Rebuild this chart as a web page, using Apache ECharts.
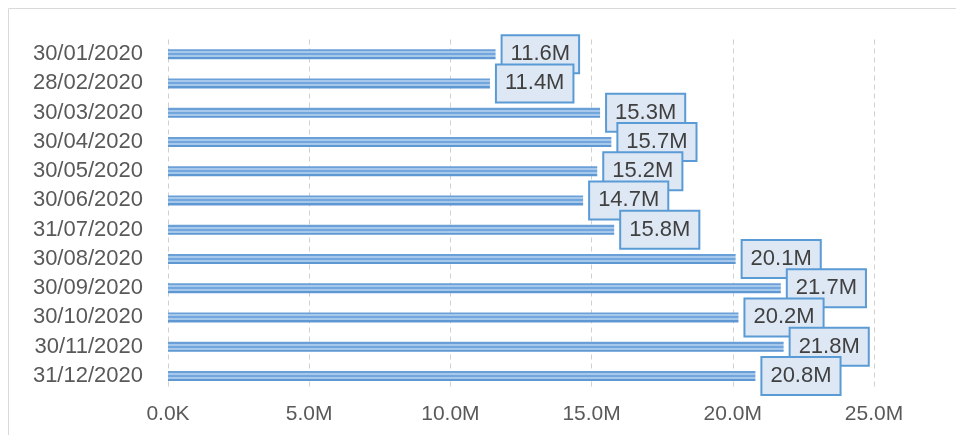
<!DOCTYPE html>
<html>
<head>
    <meta charset="utf-8">
    <script src="https://cdn.jsdelivr.net/npm/echarts@6/dist/echarts.min.js"></script>
</head>
<body style="margin:0">
    <div id="myChart" style="width: 956px;height:435px;"></div>
    <script>
        var dates = ['30/01/2020', '28/02/2020', '30/03/2020', '30/04/2020', '30/05/2020', '30/06/2020',
                     '31/07/2020', '30/08/2020', '30/09/2020', '30/10/2020', '30/11/2020', '31/12/2020'];
        var values = [11.6e6, 11.4e6, 15.3e6, 15.7e6, 15.2e6, 14.7e6, 15.8e6, 20.1e6, 21.7e6, 20.2e6, 21.8e6, 20.8e6];

        var myChart = echarts.init(document.getElementById('myChart'));

        // striped look of the bars
        var stripes = new echarts.graphic.LinearGradient(0, 0, 0, 1, [
            { offset: 0, color: '#6a9fd8' }, { offset: 0.2, color: '#6a9fd8' },
            { offset: 0.2, color: '#a6c8eb' }, { offset: 0.4, color: '#a6c8eb' },
            { offset: 0.4, color: '#72a6dc' }, { offset: 0.6, color: '#72a6dc' },
            { offset: 0.6, color: '#a6c8eb' }, { offset: 0.8, color: '#a6c8eb' },
            { offset: 0.8, color: '#5f97d3' }, { offset: 1, color: '#5f97d3' }
        ]);

        function fmt(v) {
            if (v === 0) return '0.0K';
            return (v / 1e6).toFixed(1) + 'M';
        }

        var option = {
            animation: false,
            textStyle: { fontFamily: 'Liberation Sans' },
            graphic: [{
                type: 'rect',
                shape: { x: 8.5, y: 8.5, width: 1200, height: 1200 },
                style: { fill: 'none', stroke: '#d9d9d9', lineWidth: 1 }
            }],
            grid: { left: 168, right: 82, top: 39.5, bottom: 44.5 },
            xAxis: {
                type: 'value',
                min: 0,
                max: 25e6,
                interval: 5e6,
                axisLine: { show: false },
                axisTick: { show: false },
                splitLine: { lineStyle: { color: '#d0d0d0', type: [5, 4], width: 1 } },
                axisLabel: { formatter: fmt, color: '#595959', fontSize: 21, margin: 13 }
            },
            yAxis: {
                type: 'category',
                data: dates,
                inverse: true,
                axisLine: { show: false },
                axisTick: { show: false },
                axisLabel: { color: '#595959', fontSize: 22, margin: 25 }
            },
            series: [{
                type: 'bar',
                data: values,
                barWidth: 10,
                itemStyle: { color: stripes },
                label: {
                    show: true,
                    position: 'right',
                    distance: 7,
                    formatter: function (p) { return fmt(p.value); },
                    color: '#404040',
                    fontSize: 22,
                    backgroundColor: '#dee8f4',
                    borderColor: '#5b9bd5',
                    borderWidth: 2,
                    padding: [8, 8, 6, 8]
                }
            }]
        };
        myChart.setOption(option);
    </script>
</body>
</html>
